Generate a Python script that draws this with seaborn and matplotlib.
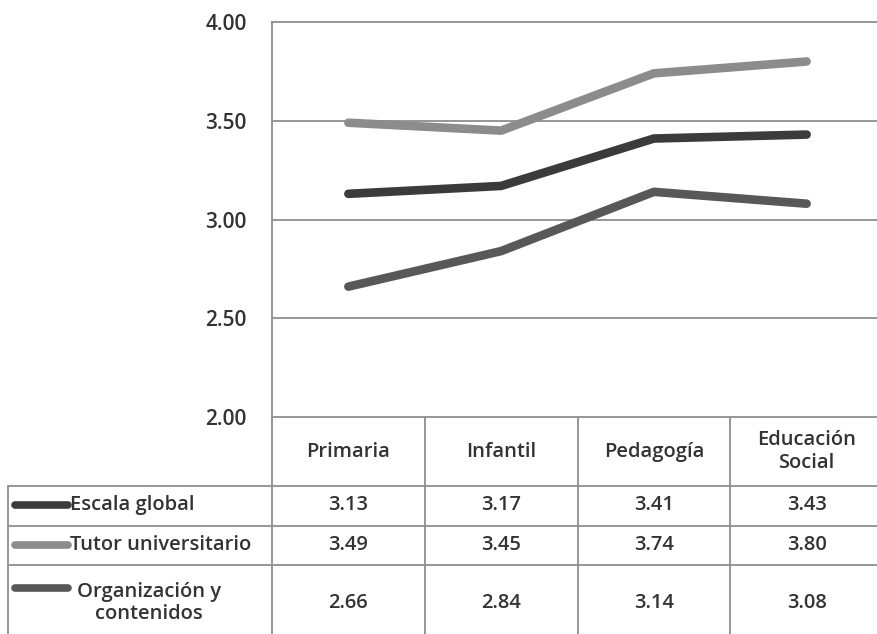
import matplotlib
matplotlib.use("Agg")
import matplotlib.pyplot as plt
import seaborn as sns
import pandas as pd

categories = ["Primaria", "Infantil", "Pedagogía", "Educación\nSocial"]
escala_global = [3.13, 3.17, 3.41, 3.43]
tutor_universitario = [3.49, 3.45, 3.74, 3.80]
organizacion = [2.66, 2.84, 3.14, 3.08]
series_names = ["Escala global", "Tutor universitario", "Organización y\ncontenidos"]
yticks = [2.00, 2.50, 3.00, 3.50, 4.00]

colors = ["#3b3b3b", "#8c8c8c", "#585858"]
grid_c = "#8f8f8f"

sns.set_theme(style="white")
plt.rcParams["font.family"] = ["Open Sans", "DejaVu Sans"]
FS = 15
FW = "semibold"
txt_c = "#333333"

W, H = 877, 634
fig = plt.figure(figsize=(W / 100, H / 100), dpi=100)

# plot area in pixel coordinates
x0, x1 = 272, 883
y_top, y_bot = 22, 417
ax = fig.add_axes([x0 / W, 1 - y_bot / H, (x1 - x0) / W, (y_bot - y_top) / H])

rows = []
for name, vals in zip(series_names, [escala_global, tutor_universitario, organizacion]):
    for i, v in enumerate(vals):
        rows.append({"pos": i, "valor": v, "serie": name})
df = pd.DataFrame(rows)

sns.lineplot(data=df, x="pos", y="valor", hue="serie", palette=colors,
             linewidth=6.2, ax=ax, legend=False, solid_capstyle="round",
             solid_joinstyle="round", sort=False)

ax.set_xlim(-0.5, 3.5)
ax.set_ylim(2.0, 4.0)
ax.set_xticks([])
ax.set_yticks(yticks)
ax.set_yticklabels([f"{t:.2f}" for t in yticks], fontsize=FS, color=txt_c,
                   fontweight=FW)
ax.tick_params(axis="y", length=0, pad=18)
ax.set_xlabel("")
ax.set_ylabel("")
for t in yticks[1:-1]:
    ax.axhline(t, color=grid_c, lw=1.3, zorder=0)
for side in ["top", "left", "bottom"]:
    ax.spines[side].set_color(grid_c)
    ax.spines[side].set_linewidth(1.3)
ax.spines["right"].set_visible(False)

# data table below the plot, in pixel coordinates
tab = fig.add_axes([0, 0, 1, 1 - y_bot / H + 0.002])
tab.set_xlim(0, W)
tab.set_ylim(H, y_bot - 1)
tab.axis("off")

col_edges = [x0 + k * (x1 - x0) / 4 for k in range(5)]
col_centers = [(col_edges[k] + col_edges[k + 1]) / 2 for k in range(4)]
row_edges = [486, 526, 565, H + 5]
row_centers = [505, 545, 603]
lw_tab = 1.3

for xe in col_edges[:4]:
    tab.plot([xe, xe], [y_bot, H + 5], color=grid_c, lw=lw_tab)
tab.plot([8, 8], [row_edges[0], H + 5], color=grid_c, lw=lw_tab)
for ye in row_edges[:3]:
    tab.plot([8, W], [ye, ye], color=grid_c, lw=lw_tab)

for xc, cat in zip(col_centers, categories):
    tab.text(xc, 452, cat, ha="center", va="center", fontsize=FS - 0.5,
             color=txt_c, linespacing=1.2, fontweight=FW)

series_vals = [escala_global, tutor_universitario, organizacion]
for r, (name, vals, c) in enumerate(zip(series_names, series_vals, colors)):
    yc = row_centers[r]
    for xc, v in zip(col_centers, vals):
        tab.text(xc, yc, f"{v:.2f}", ha="center", va="center",
                 fontsize=FS - 0.5, color=txt_c, fontweight=FW)
    if "\n" in name:
        tab.text(149, yc, name, ha="center", va="center", fontsize=FS - 0.5,
                 color=txt_c, linespacing=1.1, fontweight=FW)
        ym = yc - 15
    else:
        tab.text(70, yc, name, ha="left", va="center", fontsize=FS - 0.5,
                 color=txt_c, fontweight=FW)
        ym = yc
    tab.plot([15, 68], [ym, ym], color=c, lw=5.5, solid_capstyle="round")

fig.savefig("out.png", dpi=100)
